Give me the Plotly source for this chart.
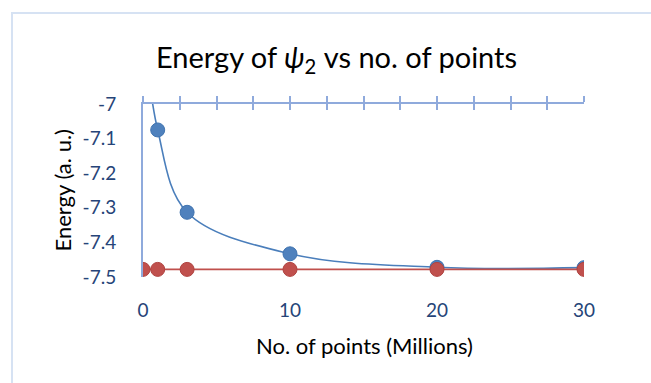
import plotly.graph_objects as go

# Data
points_millions = [0, 1, 3, 10, 20, 30]
energy_blue = [-6.75, -7.075, -7.313, -7.433, -7.472, -7.473]
energy_red = [-7.478, -7.478, -7.478, -7.478, -7.478, -7.478]

x_tick_vals = [0, 10, 20, 30]
x_tick_text = ["0", "10", "20", "30"]
y_tick_vals = [-7.0, -7.1, -7.2, -7.3, -7.4, -7.5]
y_tick_text = ["-7", "-7.1", "-7.2", "-7.3", "-7.4", "-7.5"]

title_text = "Energy of <i>ψ</i><sub>2</sub> vs no. of points"
x_title = "No. of points (Millions)"
y_title = "Energy (a. u.)"

FONT = "Lato, 'Open Sans', sans-serif"
TICK_COLOR = "#264478"
AXIS_COLOR = "#8FAADC"
BLUE = "#4A7EBB"
RED = "#C0504D"

fig = go.Figure()

fig.add_trace(go.Scatter(
    x=points_millions, y=energy_blue, mode="lines+markers",
    line=dict(color=BLUE, width=1.6, shape="spline", smoothing=1),
    marker=dict(color="#4F81BD", size=14, line=dict(color="#4174B0", width=1)),
    xaxis="x", yaxis="y", showlegend=False, cliponaxis=True,
))
fig.add_trace(go.Scatter(
    x=points_millions, y=energy_red, mode="lines+markers",
    line=dict(color=RED, width=1.6),
    marker=dict(color=RED, size=14, line=dict(color="#B04340", width=1)),
    xaxis="x2", yaxis="y", showlegend=False, cliponaxis=True,
))
fig.add_trace(go.Scatter(
    x=points_millions, y=energy_red, mode="none",
    xaxis="x3", yaxis="y", showlegend=False, hoverinfo="skip",
))

W, H = 651, 383
L, R, T, B = 143, 67, 104, 106
PW, PH = W - L - R, H - T - B

def px_x(p):
    return (p - L) / PW

def px_y(p):
    return ((H - B) - p) / PH

fig.update_layout(
    width=W, height=H,
    margin=dict(l=L, r=R, t=T, b=B, autoexpand=False),
    paper_bgcolor="white", plot_bgcolor="white",
    font=dict(family=FONT, color="black"),
    xaxis=dict(
        range=[0, 30], showline=False, showgrid=False, zeroline=False,
        tickvals=x_tick_vals, ticktext=x_tick_text, ticks="",
        tickfont=dict(size=19, color=TICK_COLOR), ticklabelstandoff=20,
        fixedrange=True,
    ),
    xaxis2=dict(
        range=[0, 30], overlaying="x", side="top", anchor="y",
        showline=True, linecolor=AXIS_COLOR, linewidth=2,
        showgrid=False, zeroline=False, showticklabels=False,
        ticks="outside", ticklen=6, tickwidth=1.5, tickcolor=AXIS_COLOR,
        dtick=2.5, tick0=0,
    ),
    xaxis3=dict(
        range=[0, 30], overlaying="x", side="top", anchor="y",
        showline=False, showgrid=False, zeroline=False, showticklabels=False,
        ticks="inside", ticklen=6, tickwidth=1.5, tickcolor=AXIS_COLOR,
        dtick=2.5, tick0=0,
    ),
    yaxis=dict(
        range=[-7.5, -7.0], showline=True, linecolor=AXIS_COLOR, linewidth=2,
        showgrid=False, zeroline=False, ticks="",
        tickvals=y_tick_vals, ticktext=y_tick_text,
        tickfont=dict(size=19, color=TICK_COLOR), ticklabelstandoff=21,
    ),
    shapes=[dict(
        type="rect", xref="paper", yref="paper",
        x0=px_x(12), x1=px_x(W + 10),
        y0=px_y(H + 10), y1=px_y(13),
        line=dict(color="#D6E2F3", width=2), layer="below",
    )],
    annotations=[
        dict(text=title_text, xref="paper", yref="paper",
             x=px_x(336), y=px_y(58),
             xanchor="center", yanchor="middle", showarrow=False,
             font=dict(size=29, color="black", family=FONT)),
        dict(text=x_title, xref="paper", yref="paper",
             x=px_x(364), y=px_y(345),
             xanchor="center", yanchor="middle", showarrow=False,
             font=dict(size=22, color="black", family=FONT)),
        dict(text=y_title, xref="paper", yref="paper",
             x=px_x(62), y=0.5, textangle=-90,
             xanchor="center", yanchor="middle", showarrow=False,
             font=dict(size=22, color="black", family=FONT)),
    ],
)

fig.write_html("out.html", config={"displayModeBar": False},
               post_script="document.body.style.margin='0px';")
